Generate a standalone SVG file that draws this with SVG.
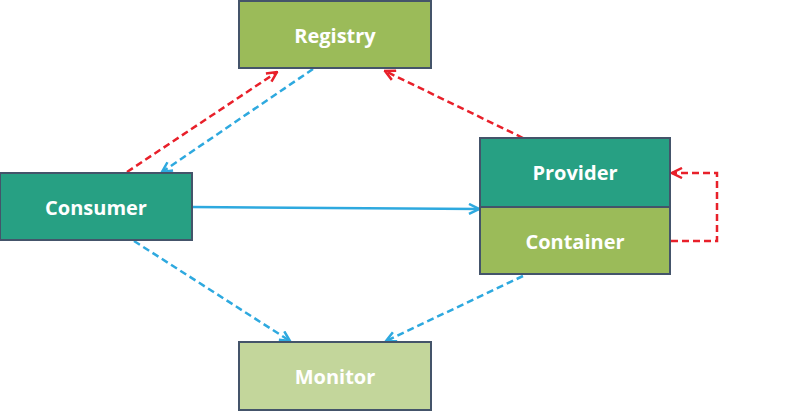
<svg xmlns="http://www.w3.org/2000/svg" width="800" height="411" viewBox="0 0 800 411">
<style>
.box{stroke:#44546A;stroke-width:2}
.lbl{font-family:"Open Sans","Liberation Sans",sans-serif;font-weight:bold;font-size:20px;fill:#FFFFFF;text-anchor:middle;dominant-baseline:central}
.red{stroke:#E8202A;stroke-width:2.5;fill:none;stroke-dasharray:7 4}
.blue{stroke:#2EA9DF;stroke-width:2.5;fill:none;stroke-dasharray:7 4}
.solid{stroke:#2EA9DF;stroke-width:2.5;fill:none}
</style>
<defs>
<marker id="ar" viewBox="0 0 10 10" refX="9" refY="5" markerWidth="5" markerHeight="5" orient="auto" markerUnits="strokeWidth">
<path d="M1,1 L9,5 L1,9" fill="none" stroke="#E8202A" stroke-width="2"/>
</marker>
<marker id="ab" viewBox="0 0 10 10" refX="9" refY="5" markerWidth="5" markerHeight="5" orient="auto" markerUnits="strokeWidth">
<path d="M1,1 L9,5 L1,9" fill="none" stroke="#2EA9DF" stroke-width="2"/>
</marker>
</defs>
<rect width="800" height="411" fill="#FFFFFF"/>
<g id="connectors">
<line class="red" x1="127" y1="172" x2="277" y2="72" marker-end="url(#ar)"/>
<line class="blue" x1="313" y1="69" x2="162" y2="172" marker-end="url(#ab)"/>
<line class="red" x1="523" y1="138" x2="385" y2="71" marker-end="url(#ar)"/>
<line class="solid" x1="192" y1="207" x2="479" y2="209" marker-end="url(#ab)"/>
<polyline class="red" points="671,241 717,241 717,173 672,173" marker-end="url(#ar)"/>
<line class="blue" x1="134" y1="241" x2="290" y2="341" marker-end="url(#ab)"/>
<line class="blue" x1="523" y1="276" x2="386" y2="341" marker-end="url(#ab)"/>
</g>
<g id="registry">
<rect class="box" x="239" y="1" width="192" height="67" fill="#9BBB59"/>
<text class="lbl" x="335" y="35">Registry</text>
</g>
<g id="consumer">
<rect class="box" x="0" y="173" width="192" height="67" fill="#27A083"/>
<text class="lbl" x="96" y="207">Consumer</text>
</g>
<g id="provider">
<rect class="box" x="480" y="138" width="190" height="69" fill="#27A083"/>
<text class="lbl" x="575" y="172">Provider</text>
</g>
<g id="container">
<rect class="box" x="480" y="207" width="190" height="67" fill="#9BBB59"/>
<text class="lbl" x="575" y="241">Container</text>
</g>
<g id="monitor">
<rect class="box" x="239" y="342" width="192" height="68" fill="#C3D69B"/>
<text class="lbl" x="335" y="376">Monitor</text>
</g>
</svg>
